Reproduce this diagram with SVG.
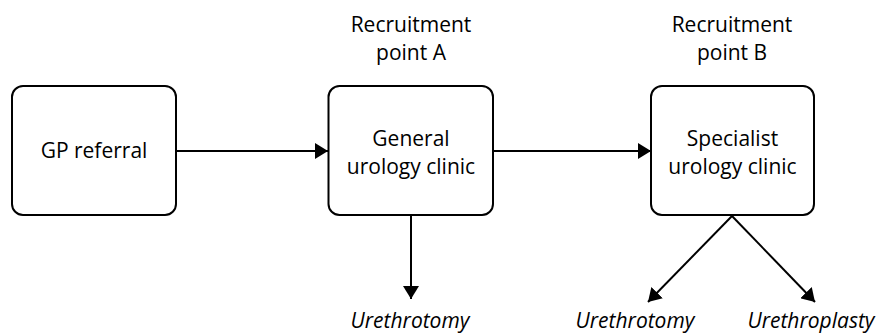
<svg xmlns="http://www.w3.org/2000/svg" width="886" height="336" viewBox="0 0 886 336">
<style>
.box{fill:#fff;stroke:#000;stroke-width:2}
.t{font-family:"Open Sans","Liberation Sans",sans-serif;font-size:21px;fill:#000;text-anchor:middle}
.i{font-style:italic}
.c{stroke:#000;stroke-width:2;fill:none}
</style>
<defs>
<marker id="ah" viewBox="0 0 13 16" refX="13" refY="8" markerWidth="13" markerHeight="16" markerUnits="userSpaceOnUse" orient="auto">
<path d="M0,0 L13,8 L0,16 Z" fill="#000"/>
</marker>
</defs>
<rect width="886" height="336" fill="#fff"/>
<g id="connectors">
<line class="c" x1="176" y1="151" x2="328" y2="151" marker-end="url(#ah)"/>
<line class="c" x1="493" y1="151" x2="651" y2="151" marker-end="url(#ah)"/>
<line class="c" x1="411" y1="216" x2="411" y2="299" marker-end="url(#ah)"/>
<line class="c" x1="732" y1="216" x2="648" y2="302" marker-end="url(#ah)"/>
<line class="c" x1="732" y1="216" x2="815" y2="302" marker-end="url(#ah)"/>
</g>
<g id="gp">
<rect class="box" x="12" y="86" width="164" height="129" rx="11"/>
<text class="t" x="94" y="158">GP referral</text>
</g>
<g id="recruitA">
<text class="t" x="411" y="32">Recruitment</text>
<text class="t" x="411" y="60">point A</text>
</g>
<g id="general">
<rect class="box" x="328.5" y="86" width="164.5" height="129" rx="11"/>
<text class="t" x="411" y="146">General</text>
<text class="t" x="411" y="174">urology clinic</text>
</g>
<g id="recruitB">
<text class="t" x="732" y="32">Recruitment</text>
<text class="t" x="732" y="60">point B</text>
</g>
<g id="specialist">
<rect class="box" x="651" y="86" width="163" height="129" rx="11"/>
<text class="t" x="732.5" y="146">Specialist</text>
<text class="t" x="732.5" y="174">urology clinic</text>
</g>
<g id="out1"><text class="t i" x="410" y="328">Urethrotomy</text></g>
<g id="out2"><text class="t i" x="635" y="328">Urethrotomy</text></g>
<g id="out3"><text class="t i" x="811" y="328">Urethroplasty</text></g>
</svg>
